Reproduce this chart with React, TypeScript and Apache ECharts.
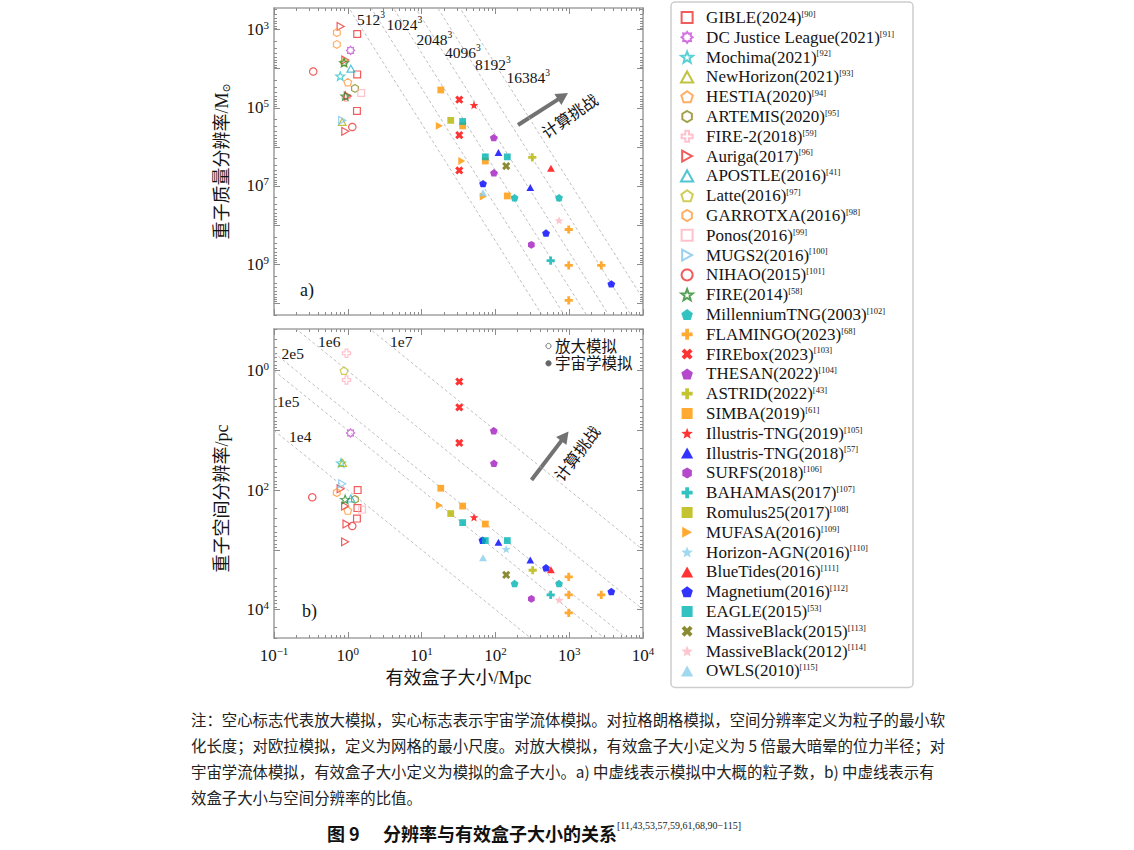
import React, { useEffect, useRef } from 'react';
import * as echarts from 'echarts';

// ---------------- axis ranges (data units) ----------------
const BOX_RANGE = [0.1, 1e4]; // effective box size, Mpc
const MASS_RANGE = [2.8e2, 2.0e10]; // baryonic mass resolution, Msun (axis inverted)
const RES_RANGE = [0.2, 3.0e4]; // spatial resolution, pc (axis inverted)

const BOX_TICKS = [0.1, 1, 10, 100, 1000, 10000];
const MASS_TICKS = [1e3, 1e4, 1e5, 1e6, 1e7, 1e8, 1e9, 1e10];
const MASS_LABELS = [1e3, 1e5, 1e7, 1e9];
const RES_TICKS = [1, 10, 100, 1000, 10000];
const RES_LABELS = [1, 100, 10000];

// ---------------- guide lines ----------------
const PARTICLES_PER_SIDE = [512, 1024, 2048, 4096, 8192, 16384];
const MEAN_MATTER_DENSITY = 3.4e10; // Msun / Mpc^3
const BOX_TO_RES_RATIOS = [1e4, 1e5, 2e5, 1e6, 1e7];

// ---------------- data: [box size Mpc, mass Msun] and [box size Mpc, resolution pc] ----------------
const gible_mass = [[1.34, 1.3e3], [1.34, 1.4e4], [1.33, 1.2e5]];
const gible_res = [[1.36, 100], [1.35, 200], [1.33, 300]];
const dcjl_mass = [[1.09, 3.4e3]];
const dcjl_res = [[1.09, 11]];
const mochima_mass = [[0.79, 1.55e4]];
const mochima_res = [[0.81, 35]];
const newhorizon_mass = [[0.84, 2.3e5]];
const newhorizon_res = [[0.85, 35]];
const hestia_mass = [[1.0, 2.2e4]];
const hestia_res = [[1.0, 220]];
const artemis_mass = [[1.25, 3.2e4]];
const artemis_res = [[1.25, 143]];
const fire2_mass = [[0.95, 5.4e4]];
const fire2_res = [[0.96, 0.51], [0.96, 1.43]];
const auriga_mass = [[0.8, 830], [0.925, 6.0e3], [1.0, 5.0e4], [0.925, 4.0e5]];
const auriga_res = [[0.8, 95], [0.92, 185], [0.96, 370], [0.92, 735]];
const apostle_mass = [[1.1, 1.0e4]];
const apostle_res = [[1.1, 138]];
const latte_mass = [[0.89, 6.8e3]];
const latte_res = [[0.89, 1.0]];
const garrotxa_mass = [[0.71, 1.2e3], [0.71, 2.4e3]];
const garrotxa_res = [[0.71, 110]];
const ponos_mass = [[1.52, 4.2e4]];
const ponos_res = [[1.56, 212]];
const mugs2_mass = [[0.84, 2.1e5]];
const mugs2_res = [[0.84, 78]];
const nihao_mass = [[0.34, 1.18e4], [1.15, 3.1e5]];
const nihao_res = [[0.33, 132], [1.15, 400]];
const fire_mass = [[0.89, 7.0e3], [0.925, 5.0e4]];
const fire_res = [[0.92, 143]];

const mtng_mass = [[182, 2.0e7], [728, 2.0e7]];
const mtng_res = [[182, 3670], [728, 3670]];
const flamingo_mass = [[985, 1.3e8], [985, 1.07e9], [2720, 1.07e9], [985, 8.5e9]];
const flamingo_res = [[985, 2850], [985, 5700], [2720, 5700], [985, 11350]];
const firebox_mass = [[32.4, 6.2e4], [32.4, 5.0e5], [32.4, 4.0e6]];
const firebox_res = [[32.4, 1.52], [32.4, 4.1], [32.4, 16.2]];
const thesan_mass = [[95, 5.8e5], [95.5, 4.6e6]];
const thesan_res = [[95, 10.1], [95.5, 35.5]];
const astrid_mass = [[316, 1.86e6]];
const astrid_res = [[320, 2200]];
const simba_mass = [[18.2, 3.5e4], [36, 2.9e5], [73, 2.3e6], [145, 1.8e7]];
const simba_res = [[18.2, 93], [36, 185], [73, 370]];
const tng19_mass = [[51.3, 8.5e4]];
const tng19_res = [[51.3, 285]];
const tng18_mass = [[110, 1.4e6], [297, 1.1e7]];
const tng18_res = [[110, 750], [297, 1485]];
const surfs_mass = [[307, 3.2e8]];
const surfs_res = [[307, 6630]];
const bahamas_mass = [[561, 8.1e8]];
const bahamas_res = [[561, 5700]];
const romulus_mass = [[24.8, 2.1e5]];
const romulus_res = [[24.8, 247]];
const mufasa_mass = [[17.4, 2.9e5], [35, 2.3e6], [68.5, 1.86e7]];
const mufasa_res = [[17.4, 180]];
const horizon_mass: number[][] = [];
const horizon_res = [[140, 973]];
const bluetides_mass = [[566, 3.5e6]];
const bluetides_res = [[566, 2150]];
const magnetium_mass = [[68, 8.7e6], [485, 1.6e8], [3720, 3.2e9]];
const magnetium_res = [[66.8, 690], [485, 2000], [3720, 5000]];
const eagle_mass = [[36, 2.24e5], [73, 1.8e6], [145, 1.8e6]];
const eagle_res = [[36, 350], [73, 700], [145, 700]];
const mb15_mass = [[140, 3.1e6]];
const mb15_res = [[140, 2630]];
const mb12_mass = [[728, 7.6e7]];
const mb12_res = [[732, 6900]];
const owls_mass = [[68, 1.5e7]];
const owls_res = [[68, 1360]];

// ---------------- series styling ----------------
const SIMS = [
  { name: 'GIBLE(2024)', ref: '90', mass: gible_mass, res: gible_res, sym: 'square', color: '#ee3333', hollow: true },
  { name: 'DC Justice League(2021)', ref: '91', mass: dcjl_mass, res: dcjl_res, sym: 'flower', color: '#c64fd6', hollow: true },
  { name: 'Mochima(2021)', ref: '92', mass: mochima_mass, res: mochima_res, sym: 'star', color: '#2ec4c9', hollow: true },
  { name: 'NewHorizon(2021)', ref: '93', mass: newhorizon_mass, res: newhorizon_res, sym: 'triUp', color: '#b3b312', hollow: true },
  { name: 'HESTIA(2020)', ref: '94', mass: hestia_mass, res: hestia_res, sym: 'pentagon', color: '#ff9a3c', hollow: true },
  { name: 'ARTEMIS(2020)', ref: '95', mass: artemis_mass, res: artemis_res, sym: 'hexagon', color: '#8a8a1e', hollow: true },
  { name: 'FIRE-2(2018)', ref: '59', mass: fire2_mass, res: fire2_res, sym: 'plus', color: '#ffb3c1', hollow: true },
  { name: 'Auriga(2017)', ref: '96', mass: auriga_mass, res: auriga_res, sym: 'triRight', color: '#ee3333', hollow: true },
  { name: 'APOSTLE(2016)', ref: '41', mass: apostle_mass, res: apostle_res, sym: 'triUp', color: '#27b5c9', hollow: true },
  { name: 'Latte(2016)', ref: '97', mass: latte_mass, res: latte_res, sym: 'pentagon', color: '#c2c22e', hollow: true },
  { name: 'GARROTXA(2016)', ref: '98', mass: garrotxa_mass, res: garrotxa_res, sym: 'hexagon', color: '#ff9a3c', hollow: true },
  { name: 'Ponos(2016)', ref: '99', mass: ponos_mass, res: ponos_res, sym: 'square', color: '#ffb3c1', hollow: true },
  { name: 'MUGS2(2016)', ref: '100', mass: mugs2_mass, res: mugs2_res, sym: 'triRight', color: '#7fc4ec', hollow: true },
  { name: 'NIHAO(2015)', ref: '101', mass: nihao_mass, res: nihao_res, sym: 'circle', color: '#ee3333', hollow: true },
  { name: 'FIRE(2014)', ref: '58', mass: fire_mass, res: fire_res, sym: 'star', color: '#2a8a2a', hollow: true },
  { name: 'MillenniumTNG(2003)', ref: '102', mass: mtng_mass, res: mtng_res, sym: 'pentagon', color: '#00b3b3', hollow: false },
  { name: 'FLAMINGO(2023)', ref: '68', mass: flamingo_mass, res: flamingo_res, sym: 'plus', color: '#ff9500', hollow: false },
  { name: 'FIREbox(2023)', ref: '103', mass: firebox_mass, res: firebox_res, sym: 'cross', color: '#ff0000', hollow: false },
  { name: 'THESAN(2022)', ref: '104', mass: thesan_mass, res: thesan_res, sym: 'pentagon', color: '#a21cbf', hollow: false },
  { name: 'ASTRID(2022)', ref: '43', mass: astrid_mass, res: astrid_res, sym: 'plus', color: '#b5b500', hollow: false },
  { name: 'SIMBA(2019)', ref: '61', mass: simba_mass, res: simba_res, sym: 'square', color: '#ff9500', hollow: false },
  { name: 'Illustris-TNG(2019)', ref: '105', mass: tng19_mass, res: tng19_res, sym: 'star', color: '#ff0000', hollow: false },
  { name: 'Illustris-TNG(2018)', ref: '57', mass: tng18_mass, res: tng18_res, sym: 'triUp', color: '#0000ff', hollow: false },
  { name: 'SURFS(2018)', ref: '106', mass: surfs_mass, res: surfs_res, sym: 'hexagon', color: '#a21cbf', hollow: false },
  { name: 'BAHAMAS(2017)', ref: '107', mass: bahamas_mass, res: bahamas_res, sym: 'plus', color: '#00b3b3', hollow: false },
  { name: 'Romulus25(2017)', ref: '108', mass: romulus_mass, res: romulus_res, sym: 'square', color: '#b5b500', hollow: false },
  { name: 'MUFASA(2016)', ref: '109', mass: mufasa_mass, res: mufasa_res, sym: 'triRight', color: '#ff9500', hollow: false },
  { name: 'Horizon-AGN(2016)', ref: '110', mass: horizon_mass, res: horizon_res, sym: 'star', color: '#87ceeb', hollow: false },
  { name: 'BlueTides(2016)', ref: '111', mass: bluetides_mass, res: bluetides_res, sym: 'triUp', color: '#ff0000', hollow: false },
  { name: 'Magnetium(2016)', ref: '112', mass: magnetium_mass, res: magnetium_res, sym: 'pentagon', color: '#0000ff', hollow: false },
  { name: 'EAGLE(2015)', ref: '53', mass: eagle_mass, res: eagle_res, sym: 'square', color: '#00b3b3', hollow: false },
  { name: 'MassiveBlack(2015)', ref: '113', mass: mb15_mass, res: mb15_res, sym: 'cross', color: '#6e6e00', hollow: false },
  { name: 'MassiveBlack(2012)', ref: '114', mass: mb12_mass, res: mb12_res, sym: 'star', color: '#ffb6c1', hollow: false },
  { name: 'OWLS(2010)', ref: '115', mass: owls_mass, res: owls_res, sym: 'triUp', color: '#87ceeb', hollow: false },
];

// ---------------- symbol shapes ----------------
const toPath = (pts: number[][]) =>
  'path://' + pts.map((p, i) => (i ? 'L' : 'M') + p[0].toFixed(2) + ',' + p[1].toFixed(2)).join('') + 'Z';
const regular = (n: number, r = 10) =>
  Array.from({ length: n }, (_, i) => {
    const a = (-90 + (360 * i) / n) * Math.PI / 180;
    return [r * Math.cos(a), r * Math.sin(a)];
  });
const starry = (n: number, ro: number, ri: number) =>
  Array.from({ length: 2 * n }, (_, i) => {
    const a = (-90 + (180 * i) / n) * Math.PI / 180;
    const r = i % 2 ? ri : ro;
    return [r * Math.cos(a), r * Math.sin(a)];
  });
const plusPts = [[-3.4, -10], [3.4, -10], [3.4, -3.4], [10, -3.4], [10, 3.4], [3.4, 3.4], [3.4, 10], [-3.4, 10], [-3.4, 3.4], [-10, 3.4], [-10, -3.4], [-3.4, -3.4]];
const rot45 = (pts: number[][]) => pts.map(([x, y]) => [(x - y) * Math.SQRT1_2, (x + y) * Math.SQRT1_2]);
const SYM: Record<string, string> = {
  square: toPath([[-10, -10], [10, -10], [10, 10], [-10, 10]]),
  circle: toPath(regular(36)),
  triUp: toPath([[0, -10], [10, 8], [-10, 8]]),
  triRight: toPath([[10, 0], [-8, -10], [-8, 10]]),
  pentagon: toPath(regular(5)),
  hexagon: toPath(regular(6)),
  star: toPath(starry(5, 10, 4.2)),
  plus: toPath(plusPts),
  cross: toPath(rot45(plusPts)),
  flower: toPath(starry(8, 10, 7)),
};
const SIZE: Record<string, number> = {
  square: 6.8, circle: 7.3, triUp: 7.8, triRight: 7.8, pentagon: 7.8, hexagon: 7.8, star: 8.8, plus: 8.2, cross: 8.2, flower: 8.2,
};

// ---------------- fonts / colours ----------------
const SERIF = "'Liberation Serif', 'DejaVu Serif', 'Noto Sans CJK SC', serif";
const CJK = "'Liberation Serif', 'Noto Sans CJK SC', sans-serif";
const FRAME = '#a3a3a3';
const TXT = '#141414';

const L10 = Math.log10;
const decadeMinors = (lo: number, hi: number) => {
  const out: number[] = [];
  for (let n = Math.floor(lo) - 1; n <= Math.ceil(hi); n++) {
    for (let k = 2; k <= 9; k++) {
      const v = n + L10(k);
      if (v >= lo - 1e-9 && v <= hi + 1e-9) out.push(v);
    }
  }
  return out;
};

const tickRich = {
  b: { fontFamily: SERIF, fontSize: 17, lineHeight: 20, color: TXT },
  s: { fontFamily: SERIF, fontSize: 11, lineHeight: 12, verticalAlign: 'top', color: TXT },
};
const powLabel = (v: number) => {
  const n = Math.round(v);
  return `{b|10}{s|${n < 0 ? '\u2212' + Math.abs(n) : n}}`;
};

function makeAxis(dim: 'x' | 'y', grid: number, position: string, range: number[], ticks: number[], labels: number[] | null, minor: boolean, inverse: boolean, extra: any = {}) {
  const lo = L10(range[0]);
  const hi = L10(range[1]);
  return {
    type: 'value',
    gridIndex: grid,
    position,
    min: lo,
    max: hi,
    inverse,
    silent: true,
    axisLine: { show: !minor, onZero: false, lineStyle: { color: FRAME, width: 1.6 } },
    axisTick: {
      show: true,
      inside: true,
      length: minor ? 3 : 6,
      customValues: minor ? decadeMinors(lo, hi) : ticks.map(L10),
      lineStyle: { color: '#8c8c8c', width: 1 },
    },
    axisLabel: labels
      ? { show: true, customValues: labels.map(L10), formatter: powLabel, rich: tickRich, margin: dim === 'x' ? 7 : 5, color: TXT }
      : { show: false },
    splitLine: { show: false },
    axisPointer: { show: false },
    ...extra,
  };
}

function buildOption() {
  const xAxes = [
    makeAxis('x', 0, 'bottom', BOX_RANGE, BOX_TICKS, null, false, false),
    makeAxis('x', 0, 'bottom', BOX_RANGE, BOX_TICKS, null, true, false),
    makeAxis('x', 0, 'top', BOX_RANGE, BOX_TICKS, null, false, false),
    makeAxis('x', 0, 'top', BOX_RANGE, BOX_TICKS, null, true, false),
    makeAxis('x', 1, 'bottom', BOX_RANGE, BOX_TICKS, BOX_TICKS, false, false, {
      name: '有效盒子大小/Mpc',
      nameLocation: 'middle',
      nameGap: 31,
      nameTextStyle: { fontFamily: CJK, fontSize: 18, color: TXT },
    }),
    makeAxis('x', 1, 'bottom', BOX_RANGE, BOX_TICKS, null, true, false),
    makeAxis('x', 1, 'top', BOX_RANGE, BOX_TICKS, null, false, false),
    makeAxis('x', 1, 'top', BOX_RANGE, BOX_TICKS, null, true, false),
  ];
  const yAxes = [
    makeAxis('y', 0, 'left', MASS_RANGE, MASS_TICKS, MASS_LABELS, false, true, {
      name: '重子质量分辨率/M{sub|⊙}',
      nameLocation: 'middle',
      nameGap: 43,
      nameTextStyle: {
        fontFamily: CJK, fontSize: 18, color: TXT,
        rich: { sub: { fontFamily: SERIF, fontSize: 11, verticalAlign: 'bottom', color: TXT } },
      },
    }),
    makeAxis('y', 0, 'left', MASS_RANGE, MASS_TICKS, null, true, true),
    makeAxis('y', 0, 'right', MASS_RANGE, MASS_TICKS, null, false, true),
    makeAxis('y', 0, 'right', MASS_RANGE, MASS_TICKS, null, true, true),
    makeAxis('y', 1, 'left', RES_RANGE, RES_TICKS, RES_LABELS, false, true, {
      name: '重子空间分辨率/pc',
      nameLocation: 'middle',
      nameGap: 43,
      nameTextStyle: { fontFamily: CJK, fontSize: 18, color: TXT, padding: [0, 30, 0, 0] },
    }),
    makeAxis('y', 1, 'left', RES_RANGE, RES_TICKS, null, true, true),
    makeAxis('y', 1, 'right', RES_RANGE, RES_TICKS, null, false, true),
    makeAxis('y', 1, 'right', RES_RANGE, RES_TICKS, null, true, true),
  ];

  const xl = [L10(BOX_RANGE[0]), L10(BOX_RANGE[1])];
  const guideStyle = { color: '#b8b8b8', width: 0.9, type: [3, 2.5] };
  const massLines = PARTICLES_PER_SIDE.map((n) => ({
    type: 'line', xAxisIndex: 0, yAxisIndex: 0, symbol: 'none', silent: true, clip: true, z: 1,
    lineStyle: guideStyle, emphasis: { disabled: true },
    data: xl.map((lx) => [lx, L10(MEAN_MATTER_DENSITY) + 3 * lx - 3 * L10(n)]),
  }));
  const ratioLines = BOX_TO_RES_RATIOS.map((r) => ({
    type: 'line', xAxisIndex: 4, yAxisIndex: 4, symbol: 'none', silent: true, clip: true, z: 1,
    lineStyle: guideStyle, emphasis: { disabled: true },
    data: xl.map((lx) => [lx, lx + 6 - L10(r)]),
  }));

  const scatters: any[] = [];
  SIMS.forEach((s) => {
    [0, 1].forEach((g) => {
      const arr = g === 0 ? s.mass : s.res;
      scatters.push({
        type: 'scatter',
        name: s.name,
        xAxisIndex: g * 4,
        yAxisIndex: g * 4,
        data: arr.map(([x, y]) => [L10(x), L10(y)]),
        symbol: SYM[s.sym],
        symbolSize: SIZE[s.sym],
        symbolKeepAspect: true,
        silent: true,
        z: 3,
        emphasis: { disabled: true },
        itemStyle: s.hollow
          ? { color: 'rgba(255,255,255,0)', borderColor: s.color, borderWidth: 1.2 }
          : { color: s.color },
      });
    });
  });

  const REF: Record<string, string> = {};
  SIMS.forEach((s) => (REF[s.name] = s.ref));

  const text = (x: number, y: number, t: string, o: any = {}) => ({
    type: 'text', x, y, silent: true, z: 10,
    style: {
      text: t, fill: TXT, fontFamily: SERIF, fontSize: 15.5,
      align: 'left', verticalAlign: 'middle', textAlign: 'left', textVerticalAlign: 'middle',
      ...o,
    },
  });
  const supRich = {
    b: { fontFamily: SERIF, fontSize: 15.5, lineHeight: 18, fill: TXT, color: TXT },
    s: { fontFamily: SERIF, fontSize: 9.5, lineHeight: 11, verticalAlign: 'top', fill: TXT, color: TXT },
  };
  const arrow = (x0: number, y0: number, x1: number, y1: number) => {
    const L = Math.hypot(x1 - x0, y1 - y0);
    const ang = Math.atan2(y0 - y1, x1 - x0);
    return {
      type: 'group', x: x0, y: y0, rotation: ang, silent: true, z: 10,
      children: [
        { type: 'rect', shape: { x: 0, y: -2, width: L - 9, height: 4 }, style: { fill: '#727272' } },
        { type: 'polygon', shape: { points: [[L - 12, -6.5], [L, 0], [L - 12, 6.5]] }, style: { fill: '#727272' } },
      ],
    };
  };
  const deg = (d: number) => (d * Math.PI) / 180;

  const particleLabelPos = [[357, 19], [386.5, 24], [416.5, 39], [445, 52.5], [475, 64], [506.5, 77]];
  const ratioLabelPos = [[289, 436.5], [277, 401], [281.5, 353], [318, 341.7], [390, 341.7]];

  const graphics: any[] = [];
  PARTICLES_PER_SIDE.forEach((n, i) => {
    graphics.push(text(particleLabelPos[i][0], particleLabelPos[i][1], `{b|${n}}{s|3}`, { rich: supRich }));
  });
  BOX_TO_RES_RATIOS.forEach((r, i) => {
    const e = Math.floor(L10(r) + 1e-9);
    const m = Math.round(r / Math.pow(10, e));
    graphics.push(text(ratioLabelPos[i][0], ratioLabelPos[i][1], `${m}e${e}`));
  });
  graphics.push(text(300, 290, 'a)', { fontSize: 18 }));
  graphics.push(text(302, 610.5, 'b)', { fontSize: 18 }));
  graphics.push(arrow(518, 125, 568, 93));
  graphics.push(arrow(531.5, 480, 568.5, 431.5));
  graphics.push(text(570, 116.5, '计算挑战', { fontFamily: CJK, fontSize: 16, align: 'center', textAlign: 'center', }));
  graphics[graphics.length - 1].rotation = deg(34.5);
  graphics.push(text(577.5, 454, '计算挑战', { fontFamily: CJK, fontSize: 16, align: 'center', textAlign: 'center' }));
  graphics[graphics.length - 1].rotation = deg(53);
  graphics.push({ type: 'circle', shape: { cx: 548.5, cy: 346, r: 2.6 }, style: { fill: '#fff', stroke: '#777', lineWidth: 1 }, silent: true, z: 10 });
  graphics.push(text(555, 346, '放大模拟', { fontFamily: CJK, fontSize: 15.5 }));
  graphics.push({ type: 'circle', shape: { cx: 548.5, cy: 363.3, r: 2.8 }, style: { fill: '#666', stroke: '#666', lineWidth: 0.5 }, silent: true, z: 10 });
  graphics.push(text(555, 363.3, '宇宙学模拟', { fontFamily: CJK, fontSize: 15.5 }));

  const caption = [
    '注：空心标志代表放大模拟，实心标志表示宇宙学流体模拟。对拉格朗格模拟，空间分辨率定义为粒子的最小软',
    '化长度；对欧拉模拟，定义为网格的最小尺度。对放大模拟，有效盒子大小定义为 5 倍最大暗晕的位力半径；对',
    '宇宙学流体模拟，有效盒子大小定义为模拟的盒子大小。a) 中虚线表示模拟中大概的粒子数，b) 中虚线表示有',
    '效盒子大小与空间分辨率的比值。',
  ];
  caption.forEach((c, i) => {
    graphics.push(text(191, 719 + i * 26, c, { fontFamily: "'Noto Sans CJK SC', sans-serif", fontSize: 15.4, fill: '#222' }));
  });
  graphics.push(text(327, 833, '图 9', { fontFamily: "'Noto Sans CJK SC', sans-serif", fontSize: 18, fontWeight: 'bold', fill: '#111' }));
  graphics.push(text(383, 833, '分辨率与有效盒子大小的关系', { fontFamily: "'Noto Sans CJK SC', sans-serif", fontSize: 18, fontWeight: 'bold', fill: '#111' }));
  graphics.push(text(617, 825, '[11,43,53,57,59,61,68,90\u2212115]', { fontFamily: SERIF, fontSize: 10, fill: '#222' }));

  return {
    animation: false,
    backgroundColor: '#ffffff',
    grid: [
      { left: 274, top: 8, width: 369, height: 307, containLabel: false },
      { left: 274, top: 329, width: 369, height: 309, containLabel: false },
    ],
    xAxis: xAxes,
    yAxis: yAxes,
    legend: {
      orient: 'vertical',
      left: 671,
      top: 2,
      padding: [7, 19, 8, 9],
      itemGap: 2.8,
      itemWidth: 28,
      itemHeight: 11,
      symbolKeepAspect: true,
      borderColor: '#cdcdcd',
      borderWidth: 1.5,
      borderRadius: 4,
      backgroundColor: '#fff',
      selectedMode: false,
      data: SIMS.map((s) => s.name),
      formatter: (name: string) => `{n|${name}}{s|[${REF[name]}]}`,
      textStyle: {
        fontFamily: SERIF,
        fontSize: 17,
        color: TXT,
        rich: {
          n: { fontFamily: SERIF, fontSize: 17, lineHeight: 16, color: TXT },
          s: { fontFamily: SERIF, fontSize: 8.5, lineHeight: 10, verticalAlign: 'top', color: TXT },
        },
      },
    },
    series: [...massLines, ...ratioLines, ...scatters],
    graphic: { elements: graphics },
  };
}

export default function App() {
  const ref = useRef<HTMLDivElement>(null);
  useEffect(() => {
    if (!ref.current) return;
    const chart = echarts.init(ref.current, null, { renderer: 'svg' });
    chart.setOption(buildOption() as any);
    return () => chart.dispose();
  }, []);
  return (
    <div
      ref={ref}
      style={{ position: 'absolute', left: 0, top: 0, width: 1134, height: 850, background: '#fff' }}
    />
  );
}
